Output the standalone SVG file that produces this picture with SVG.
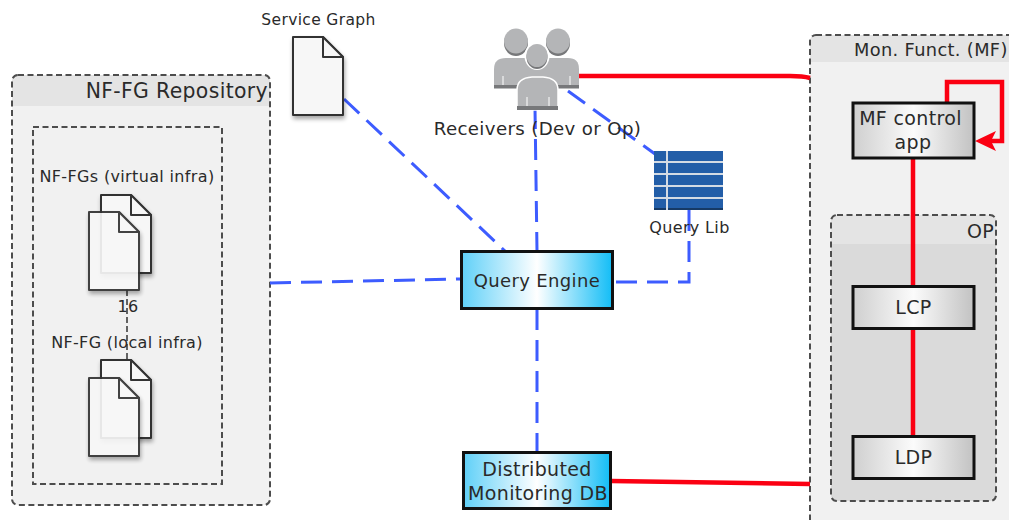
<svg xmlns="http://www.w3.org/2000/svg" width="1009" height="520" viewBox="0 0 1009 520">
<style>
text{font-family:"DejaVu Sans","Liberation Sans",sans-serif;fill:#2a2a2a;letter-spacing:.35px}
.group{fill:#f1f1f1;stroke:none}
.border{fill:none;stroke:#4d4d4d;stroke-width:2;stroke-dasharray:6 3.5}
.head{fill:#e4e4e4}
.box{stroke:#111;stroke-width:3}
.blue{fill:none;stroke:#3d5cff;stroke-width:3;stroke-dasharray:21 10}
.red{fill:none;stroke:#fb0012;stroke-width:4.500}
.doc{fill:#f7f7f7;stroke:#333;stroke-width:2;stroke-linejoin:round;filter:url(#sh)}
.fold{fill:#f7f7f7;stroke:#333;stroke-width:2;stroke-linejoin:round}
.p{fill:#b4b5b7}
.pd{fill:#77787a}
.r{fill:#235ea8}
.rd{fill:#163a66}
.rl{fill:#d4dbe4}
</style>
<defs>
<linearGradient id="cy"><stop offset="0" stop-color="#5fd0f8"/><stop offset=".5" stop-color="#fff"/><stop offset="1" stop-color="#12bdf6"/></linearGradient>
<linearGradient id="gr"><stop offset="0" stop-color="#cfcfcf"/><stop offset=".5" stop-color="#fbfbfb"/><stop offset="1" stop-color="#c2c2c2"/></linearGradient>
<filter id="sh" x="-20%" y="-20%" width="150%" height="150%"><feDropShadow dx="1" dy="3" stdDeviation="2" flood-color="#000" flood-opacity=".35"/></filter>
<g id="d"><path class="doc" d="M0 0H30L50 20V78H0Z"/><path class="fold" d="M30 0V20H50Z"/></g>
</defs>

<g id="nffg-repo">
<rect class="group" x="12" y="75" width="258" height="430" rx="6"/>
<path class="head" d="M12 81a6 6 0 0 1 6-6H264a6 6 0 0 1 6 6V106H12Z"/>
<rect class="border" x="12" y="75" width="258" height="430" rx="6"/>
<text x="268" y="98" text-anchor="end" font-size="20.400">NF-FG Repository</text>
</g>
<g id="nffg-inner">
<rect class="border" x="33" y="127" width="189" height="357"/>
</g>

<g id="mf">
<rect class="group" x="810" y="35" width="215" height="510" rx="6"/>
<path class="head" d="M810 41a6 6 0 0 1 6-6H1025V62H810Z"/>
<rect class="border" x="810" y="35" width="215" height="510" rx="6"/>
<text x="854" y="56" font-size="17.800">Mon. Funct. (MF)</text>
</g>
<g id="op">
<rect x="831" y="215" width="165" height="286" rx="6" fill="#dadada"/>
<path d="M831 221a6 6 0 0 1 6-6H990a6 6 0 0 1 6 6V244H831Z" fill="#e4e4e4"/>
<rect class="border" x="831" y="215" width="165" height="286" rx="6"/>
<text x="994" y="238" text-anchor="end" font-size="19">OP</text>
</g>

<g id="connectors">
<path class="blue" d="M344 99L505 251"/>
<path class="blue" d="M535 108L537 251"/>
<path class="blue" d="M568 91L655 154"/>
<path class="blue" d="M689 210V282H613"/>
<path class="blue" d="M270 283L461 279"/>
<path class="blue" d="M537 309V452"/>
<path d="M127 290V360" fill="none" stroke="#333" stroke-width="1.500" stroke-dasharray="6 3"/>
<path class="red" d="M579 76H790Q803 76 810 78"/>
<path class="red" d="M611 481L810 484"/>
<path class="red" d="M947 103V82H1002V141H985"/>
<path d="M975 141L996 131L991 141L996 151Z" fill="#fb0012"/>
<path class="red" d="M913 158V286M913 329V436"/>
</g>

<g id="service-graph">
<text x="318.500" y="25" text-anchor="middle" font-size="15.500">Service Graph</text>
<use href="#d" x="293" y="37"/>
</g>

<g id="receivers">
<ellipse class="pd" cx="516" cy="43" rx="12" ry="13"/><ellipse class="p" cx="516" cy="41" rx="12" ry="12.500"/>
<ellipse class="pd" cx="558" cy="43" rx="12" ry="13"/><ellipse class="p" cx="558" cy="41" rx="12" ry="12.500"/>
<path class="p" d="M494 88V69Q494 58 506 58H568Q579 58 579 69V88Z"/>
<rect class="pd" x="494" y="85" width="85" height="3.500"/>
<path d="M503 76V85M570 76V85" stroke="#fff" stroke-width="1"/>
<path d="M517 110V90Q517 78 532 77H543Q558 78 558 90V110Z" class="p" stroke="#fff" stroke-width="1.500"/>
<ellipse cx="537" cy="56" rx="12.500" ry="14" fill="#fff"/>
<ellipse class="pd" cx="537" cy="57" rx="10.500" ry="12"/><ellipse class="p" cx="537" cy="55.500" rx="10.500" ry="11.500"/>
<rect class="pd" x="517" y="106" width="41" height="4"/>
<path d="M527 97V106M549 97V106" stroke="#fff" stroke-width="1"/>
<text x="537.500" y="135" text-anchor="middle" font-size="18.200">Receivers (Dev or Op)</text>
</g>

<g id="query-lib">
<rect class="r" x="654" y="151" width="69" height="59"/>
<rect class="rl" x="654" y="161" width="69" height="2"/>
<rect class="rl" x="654" y="173" width="69" height="2"/>
<rect class="rl" x="654" y="185" width="69" height="2"/>
<rect class="rl" x="654" y="197" width="69" height="2"/>
<rect class="rd" x="654" y="208" width="69" height="2"/>
<rect class="rl" x="666" y="151" width="2" height="59"/>
<text x="689.500" y="233" text-anchor="middle" font-size="16">Query Lib</text>
</g>

<g id="query-engine">
<rect class="box" x="461.500" y="251.500" width="151" height="57" fill="url(#cy)"/>
<text x="537" y="287" text-anchor="middle" font-size="18">Query Engine</text>
</g>
<g id="monitoring-db">
<rect class="box" x="463.500" y="452.500" width="147" height="56" fill="url(#cy)"/>
<text x="537" y="476" text-anchor="middle" font-size="19">Distributed</text>
<text x="538" y="500" text-anchor="middle" font-size="19">Monitoring DB</text>
</g>
<g id="mf-control">
<rect class="box" x="853" y="103" width="121" height="55" fill="url(#gr)"/>
<text x="910.500" y="125" text-anchor="middle" font-size="19">MF control</text>
<text x="913" y="149" text-anchor="middle" font-size="19">app</text>
</g>
<g id="lcp">
<rect class="box" x="853" y="286.500" width="121" height="42" fill="url(#gr)"/>
<text x="913.500" y="314" text-anchor="middle" font-size="19">LCP</text>
</g>
<g id="ldp">
<rect class="box" x="853" y="436.500" width="121" height="42" fill="url(#gr)"/>
<text x="913.500" y="464" text-anchor="middle" font-size="19">LDP</text>
</g>

<g id="nf-fgs">
<text x="127" y="182" text-anchor="middle" font-size="16">NF-FGs (virtual infra)</text>
<use href="#d" x="101" y="195"/>
<use href="#d" x="89" y="212" opacity=".92"/>
</g>
<g id="nf-fg-local">
<text x="127" y="348" text-anchor="middle" font-size="16">NF-FG (local infra)</text>
<use href="#d" x="101" y="360"/>
<use href="#d" x="89" y="378" opacity=".92"/>
</g>
<text x="128" y="312" text-anchor="middle" font-size="16">16</text>
</svg>
